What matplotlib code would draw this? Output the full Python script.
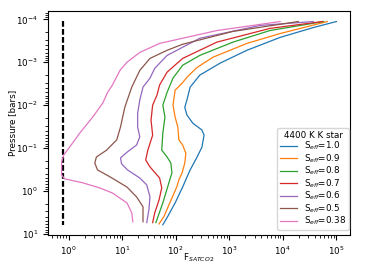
import numpy as np
import matplotlib
matplotlib.use('Agg')
import matplotlib.pyplot as plt

# values, stored as log10(F_SATCO2) and log10(P [bar])
seff_labels = ['1.0', '0.9', '0.8', '0.7', '0.6', '0.5', '0.38']

logf_10 = [5.00, 4.57, 3.95, 3.33, 2.83, 2.45, 2.27, 2.21, 2.17, 2.21, 2.32, 2.49, 2.53, 2.49, 2.40, 2.27, 2.13, 1.99, 1.85, 1.76]
logp_10 = [-3.95, -3.81, -3.58, -3.28, -2.98, -2.70, -2.42, -2.12, -1.95, -1.77, -1.58, -1.42, -1.30, -1.02, -0.79, -0.49, -0.09, 0.28, 0.60, 0.79]

logf_09 = [4.83, 3.95, 3.33, 2.70, 2.40, 2.21, 2.12, 1.99, 1.95, 1.99, 2.04, 2.06, 2.13, 2.19, 2.17, 2.12, 2.06, 2.02, 1.89, 1.78, 1.69]
logp_09 = [-3.95, -3.67, -3.44, -3.12, -2.88, -2.65, -2.51, -2.35, -2.00, -1.72, -1.49, -1.19, -1.07, -0.88, -0.65, -0.42, -0.26, -0.09, 0.28, 0.60, 0.77]

logf_08 = [4.76, 3.76, 3.07, 2.45, 2.13, 1.95, 1.84, 1.76, 1.80, 1.76, 1.74, 1.84, 1.91, 1.93, 1.89, 1.85, 1.76, 1.67, 1.63]
logp_08 = [-3.95, -3.74, -3.47, -3.16, -2.93, -2.63, -2.30, -2.00, -1.72, -1.35, -0.95, -0.79, -0.65, -0.42, -0.26, -0.09, 0.28, 0.60, 0.74]

logf_07 = [4.74, 3.76, 2.77, 2.13, 1.84, 1.70, 1.65, 1.57, 1.54, 1.57, 1.48, 1.44, 1.52, 1.70, 1.74, 1.69, 1.61, 1.57]
logp_07 = [-3.95, -3.79, -3.47, -3.09, -2.77, -2.47, -2.23, -2.00, -1.65, -1.30, -0.95, -0.72, -0.56, -0.30, -0.07, 0.21, 0.51, 0.74]

logf_06 = [4.57, 3.58, 2.45, 1.84, 1.61, 1.52, 1.39, 1.33, 1.29, 1.29, 1.33, 1.27, 1.10, 0.97, 0.99, 1.10, 1.33, 1.46, 1.52, 1.50, 1.46]
logp_06 = [-3.95, -3.86, -3.56, -3.16, -2.86, -2.63, -2.42, -2.12, -1.81, -1.49, -1.26, -1.07, -0.91, -0.77, -0.63, -0.49, -0.30, -0.14, 0.14, 0.44, 0.74]

logf_05 = [4.29, 3.07, 2.13, 1.84, 1.52, 1.33, 1.18, 1.05, 0.97, 0.90, 0.71, 0.52, 0.49, 0.54, 0.77, 1.09, 1.27, 1.39, 1.39]
logp_05 = [-3.95, -3.72, -3.42, -3.28, -3.09, -2.81, -2.42, -1.95, -1.49, -1.19, -0.95, -0.79, -0.65, -0.49, -0.33, -0.09, 0.14, 0.37, 0.72]

logf_038 = [3.95, 2.77, 1.70, 1.33, 1.09, 0.96, 0.82, 0.73, 0.64, 0.45, 0.21, 0.02, -0.09, -0.13, -0.13, -0.07, 0.26, 0.58, 0.82, 1.09, 1.18, 1.20]
logp_038 = [-3.95, -3.74, -3.44, -3.23, -3.00, -2.81, -2.47, -2.30, -2.05, -1.72, -1.35, -1.02, -0.84, -0.67, -0.37, -0.28, -0.19, -0.07, 0.05, 0.28, 0.51, 0.72]

# saturation limit (vertical dashed line)
sat_f = [0.78, 0.78]
sat_p = [1.1e-4, 6.2]

curves = [(logf_10, logp_10), (logf_09, logp_09), (logf_08, logp_08), (logf_07, logp_07),
          (logf_06, logp_06), (logf_05, logp_05), (logf_038, logp_038)]

plt.rcParams['font.size'] = 6.3

fig = plt.figure(figsize=(3.89, 2.68), dpi=100)
ax = fig.add_axes([0.123, 0.123, 0.777, 0.836])

ax.plot(sat_f, sat_p, color='black', linestyle='--', linewidth=1.6, dashes=(2.6, 1.0))
for (lf, lp), lab in zip(curves, seff_labels):
    ax.plot(10 ** np.array(lf), 10 ** np.array(lp), linewidth=0.9,
            label='S$_{eff}$=' + lab)

ax.set_xscale('log')
ax.set_yscale('log')
ax.invert_yaxis()
ax.set_xlabel('F$_{SATCO2}$')
ax.xaxis.set_label_coords(0.5, -0.075)
ax.set_ylabel('Pressure [bars]')
ax.yaxis.set_label_coords(-0.1, 0.5)
ax.tick_params(labelsize=6.3)

h, l = ax.get_legend_handles_labels()
ax.legend(h, l, loc='lower right', bbox_to_anchor=(0.997, 0.022), borderaxespad=0,
          title='4400 K K star', fontsize=6.3, title_fontsize=6.3,
          labelspacing=0.0, borderpad=0.3)

plt.savefig('out.png', dpi=100)
